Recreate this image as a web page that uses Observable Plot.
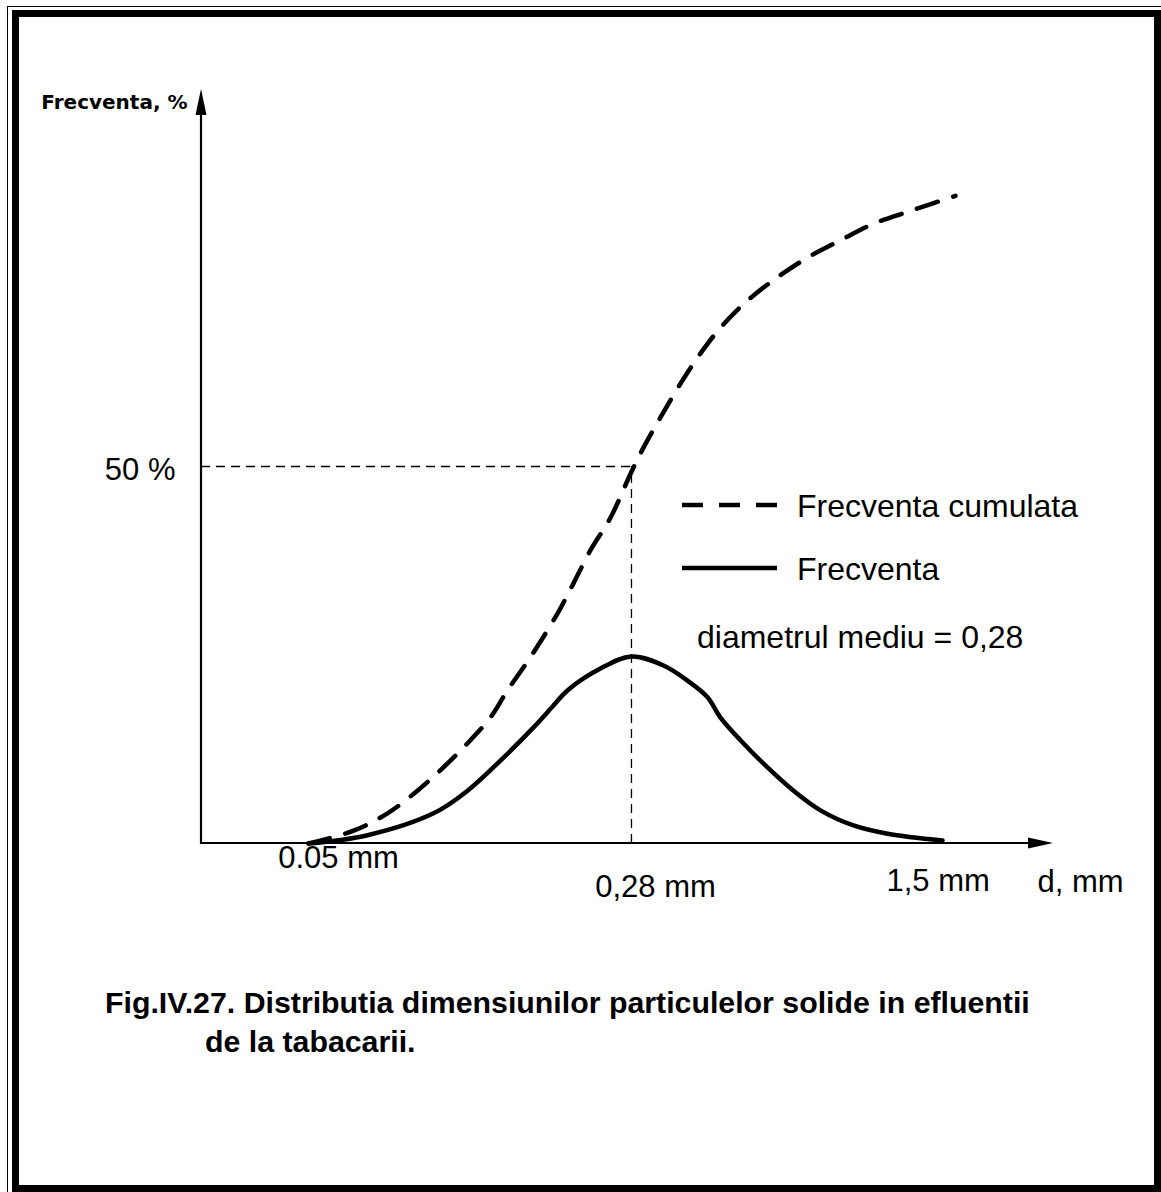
<!DOCTYPE html>
<html>
<head>
<meta charset="utf-8">
<script src="https://cdn.jsdelivr.net/npm/d3@7"></script>
<script src="https://cdn.jsdelivr.net/npm/@observablehq/plot@0.6"></script>
<style>
html, body { margin: 0; padding: 0; background: #fff; }
body { width: 1161px; height: 1192px; position: relative; overflow: hidden; font-family: "Liberation Sans", Arial, sans-serif; color: #000; }
#outer { position: absolute; left: 7px; top: 6px; width: 1180px; height: 1210px; border: 1.5px solid #000; box-sizing: border-box; }
#inner { position: absolute; left: 12px; top: 10px; right: 0; bottom: 0; border: 7px solid #000; box-sizing: border-box; background: #fff; }
#chart { position: absolute; left: 0; top: 0; }
.lbl { position: absolute; white-space: nowrap; font-size: 32px; line-height: 32px; }
.cap { position: absolute; white-space: nowrap; font-size: 30.3px; line-height: 30px; font-weight: bold; }
#legsvg { position: absolute; left: 0; top: 0; }
</style>
</head>
<body>
<div id="outer"></div>
<div id="inner"></div>
<div id="chart"></div>
<svg id="legsvg" width="1161" height="1192"></svg>
<div class="lbl" style="left:797px; top:490px;">Frecventa cumulata</div>
<div class="lbl" style="left:797px; top:553px;">Frecventa</div>
<div class="lbl" style="left:697px; top:621px;">diametrul mediu = 0,28</div>
<div class="cap" style="left:105px; top:988px;">Fig.IV.27. Distributia dimensiunilor particulelor solide in efluentii</div>
<div class="cap" style="left:205px; top:1027px;">de la tabacarii.</div>
<script>
// ---- data ----
const xDomain = [0.02826, 2.659];           // d, mm (log axis)
const yDomain = [0, 100];                   // Frecventa, %
const tickValues = [0.05, 0.28, 1.5];
const tickLabels = ["0.05 mm", "0,28 mm", "1,5 mm"];
const xAxisLabel = "d, mm";
const yAxisLabel = "Frecventa, %";
const medianD = 0.28;
const medianPct = 50;
const medianLabel = "50 %";

const freqD   = [0.05, 0.0685, 0.0974, 0.1168, 0.1392, 0.1661, 0.1847, 0.199, 0.2373, 0.28, 0.3321, 0.3775, 0.42, 0.4501, 0.5008, 0.5662, 0.6646, 0.7673, 0.9149, 1.097, 1.471];
const freqPct = [0, 1.1, 4.0, 7.0, 11.0, 15.4, 18.3, 20.3, 23.2, 24.8, 23.6, 21.6, 19.4, 16.7, 13.7, 10.6, 7.0, 4.4, 2.4, 1.3, 0.4];

const cumD   = [0.05, 0.0636, 0.0762, 0.0894, 0.1027, 0.1168, 0.1319, 0.1445, 0.1633, 0.1887, 0.2055, 0.225, 0.2503, 0.28, 0.2985, 0.3268, 0.3637, 0.4046, 0.4501, 0.5198, 0.6101, 0.7159, 0.8536, 1.018, 1.24, 1.576];
const cumPct = [0, 1.7, 4.0, 7.0, 10.1, 13.3, 16.7, 20.3, 24.7, 30.5, 34.5, 38.9, 43.2, 49.3, 52.5, 56.5, 61.0, 65.0, 68.4, 72.0, 75.1, 77.7, 80.0, 82.2, 83.9, 85.9];

const freq = freqD.map((d, i) => ({d, p: freqPct[i]}));
const cum = cumD.map((d, i) => ({d, p: cumPct[i]}));
const ticks = tickValues.map((d, i) => ({d, label: tickLabels[i]}));

// ---- axes with filled arrow heads (drawn from the scales) ----
function arrowAxes(index, {x, y}) {
  const x0 = x(xDomain[0]), x1 = x(xDomain[1]);
  const y0 = y(yDomain[0]), y1 = y(yDomain[1]);
  const g = d3.create("svg:g").attr("fill", "#000").attr("stroke", "#000");
  g.append("line").attr("x1", x0).attr("x2", x1 - 24).attr("y1", y0).attr("y2", y0).attr("stroke-width", 2.2);
  g.append("path").attr("stroke", "none").attr("d", `M${x1},${y0}L${x1 - 25},${y0 - 5.5}L${x1 - 25},${y0 + 5.5}Z`);
  g.append("line").attr("x1", x0).attr("x2", x0).attr("y1", y0 + 1).attr("y2", y1 + 25).attr("stroke-width", 2.2);
  g.append("path").attr("stroke", "none").attr("d", `M${x0},${y1}L${x0 - 5.5},${y1 + 26}L${x0 + 5.5},${y1 + 26}Z`);
  return g.node();
}

const H = 940;
const chart = Plot.plot({
  width: 1161,
  height: H,
  marginLeft: 201,
  marginRight: 108,
  marginTop: 89,
  marginBottom: H - 843,
  x: {type: "log", domain: xDomain, axis: null},
  y: {domain: yDomain, axis: null},
  style: {fontFamily: "'Liberation Sans', Arial, sans-serif", background: "transparent", color: "#000"},
  marks: [
    Plot.ruleY([medianPct], {x1: xDomain[0], x2: medianD, stroke: "#000", strokeWidth: 1.3, strokeDasharray: "9,6"}),
    Plot.ruleX([medianD], {y1: yDomain[0], y2: medianPct, stroke: "#000", strokeWidth: 1.3, strokeDasharray: "9,6"}),
    Plot.line(cum, {x: "d", y: "p", curve: "catmull-rom", stroke: "#000", strokeWidth: 4.5, strokeDasharray: "22,16"}),
    Plot.line(freq, {x: "d", y: "p", curve: "catmull-rom", stroke: "#000", strokeWidth: 4.5}),
    arrowAxes,
    Plot.text([medianLabel], {x: xDomain[0], y: medianPct, text: d => d, textAnchor: "end", dx: -26, dy: 4, fontSize: 31, fill: "#000"}),
    Plot.text([yAxisLabel], {x: xDomain[0], y: yDomain[1], text: d => d, textAnchor: "end", dx: -14, dy: 13, fontSize: 20, fontWeight: "bold", fontFamily: "'DejaVu Sans', sans-serif", fill: "#000"}),
    Plot.text([ticks[0]], {x: "d", y: yDomain[0], text: "label", dx: 30, dy: 15, fontSize: 31, fill: "#000"}),
    Plot.text([ticks[1]], {x: "d", y: yDomain[0], text: "label", dx: 24, dy: 44, fontSize: 31, fill: "#000"}),
    Plot.text([ticks[2]], {x: "d", y: yDomain[0], text: "label", dx: -8, dy: 38, fontSize: 31, fill: "#000"}),
    Plot.text([xAxisLabel], {x: xDomain[1], y: yDomain[0], text: d => d, dx: 27, dy: 39, fontSize: 31, fill: "#000"})
  ]
});
document.getElementById("chart").appendChild(chart);

// ---- legend samples ----
const leg = d3.select("#legsvg");
leg.append("line").attr("x1", 682).attr("x2", 777).attr("y1", 505).attr("y2", 505)
  .attr("stroke", "#000").attr("stroke-width", 4.5).attr("stroke-dasharray", "21,16");
leg.append("line").attr("x1", 682).attr("x2", 777).attr("y1", 568).attr("y2", 568)
  .attr("stroke", "#000").attr("stroke-width", 4.5);
</script>
</body>
</html>
